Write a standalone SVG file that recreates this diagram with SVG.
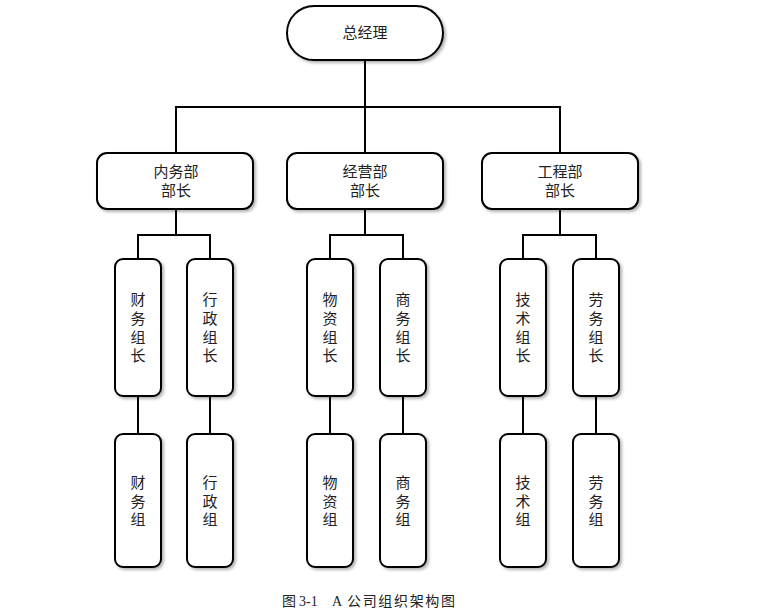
<svg xmlns="http://www.w3.org/2000/svg" width="761" height="616" viewBox="0 0 761 616">
<defs>
<filter id="sh" x="-20%" y="-20%" width="140%" height="140%">
<feDropShadow dx="2" dy="2" stdDeviation="1.5" flood-color="#000" flood-opacity="0.3"/>
</filter>
<style>
.box{fill:#fff;stroke:#000;stroke-width:2;filter:url(#sh)}
.t{font-family:"Liberation Serif","Noto Sans CJK SC",serif;font-size:15px;fill:#222;text-anchor:middle;dominant-baseline:central}
.ln{fill:none;stroke:#000;stroke-width:2}
.cap{font-family:"Liberation Serif","Noto Sans CJK SC",serif;font-size:14px;fill:#222}
</style>
</defs>
<rect width="761" height="616" fill="#fff"/>
<g id="connectors" class="ln">
<path d="M365 60V107M176 153V107H560V153M365 107V153"/>
<path d="M176 209V235M138 259V235H210V259"/>
<path d="M365 209V235M330 259V235H403V259"/>
<path d="M560 209V235M523 259V235H596V259"/>
<path d="M138 396V434M210 396V434M330 396V434M403 396V434M523 396V434M596 396V434"/>
</g>
<g id="n0"><rect class="box" x="287" y="6" width="156" height="54" rx="27"/><text class="t" x="365" y="33">总经理</text></g>
<g id="n1"><rect class="box" x="97" y="153" width="156" height="56" rx="10"/><text class="t" x="176" y="172">内务部</text><text class="t" x="176" y="191">部长</text></g>
<g id="n2"><rect class="box" x="287" y="153" width="156" height="56" rx="10"/><text class="t" x="365" y="172">经营部</text><text class="t" x="365" y="191">部长</text></g>
<g id="n3"><rect class="box" x="482" y="153" width="156" height="56" rx="10"/><text class="t" x="560" y="172">工程部</text><text class="t" x="560" y="191">部长</text></g>
<g id="n4"><rect class="box" x="115" y="259" width="46" height="137" rx="8"/><text class="t" x="138" y="300">财</text><text class="t" x="138" y="319">务</text><text class="t" x="138" y="338">组</text><text class="t" x="138" y="356">长</text></g>
<g id="n5"><rect class="box" x="187" y="259" width="46" height="137" rx="8"/><text class="t" x="210" y="300">行</text><text class="t" x="210" y="319">政</text><text class="t" x="210" y="338">组</text><text class="t" x="210" y="356">长</text></g>
<g id="n6"><rect class="box" x="307" y="259" width="46" height="137" rx="8"/><text class="t" x="330" y="300">物</text><text class="t" x="330" y="319">资</text><text class="t" x="330" y="338">组</text><text class="t" x="330" y="356">长</text></g>
<g id="n7"><rect class="box" x="380" y="259" width="46" height="137" rx="8"/><text class="t" x="403" y="300">商</text><text class="t" x="403" y="319">务</text><text class="t" x="403" y="338">组</text><text class="t" x="403" y="356">长</text></g>
<g id="n8"><rect class="box" x="500" y="259" width="46" height="137" rx="8"/><text class="t" x="523" y="300">技</text><text class="t" x="523" y="319">术</text><text class="t" x="523" y="338">组</text><text class="t" x="523" y="356">长</text></g>
<g id="n9"><rect class="box" x="573" y="259" width="46" height="137" rx="8"/><text class="t" x="596" y="300">劳</text><text class="t" x="596" y="319">务</text><text class="t" x="596" y="338">组</text><text class="t" x="596" y="356">长</text></g>
<g id="n10"><rect class="box" x="115" y="434" width="46" height="133" rx="8"/><text class="t" x="138" y="483">财</text><text class="t" x="138" y="502">务</text><text class="t" x="138" y="520">组</text></g>
<g id="n11"><rect class="box" x="187" y="434" width="46" height="133" rx="8"/><text class="t" x="210" y="483">行</text><text class="t" x="210" y="502">政</text><text class="t" x="210" y="520">组</text></g>
<g id="n12"><rect class="box" x="307" y="434" width="46" height="133" rx="8"/><text class="t" x="330" y="483">物</text><text class="t" x="330" y="502">资</text><text class="t" x="330" y="520">组</text></g>
<g id="n13"><rect class="box" x="380" y="434" width="46" height="133" rx="8"/><text class="t" x="403" y="483">商</text><text class="t" x="403" y="502">务</text><text class="t" x="403" y="520">组</text></g>
<g id="n14"><rect class="box" x="500" y="434" width="46" height="133" rx="8"/><text class="t" x="523" y="483">技</text><text class="t" x="523" y="502">术</text><text class="t" x="523" y="520">组</text></g>
<g id="n15"><rect class="box" x="573" y="434" width="46" height="133" rx="8"/><text class="t" x="596" y="483">劳</text><text class="t" x="596" y="502">务</text><text class="t" x="596" y="520">组</text></g>
<text class="cap" y="606"><tspan x="282">图</tspan><tspan x="299">3-1</tspan><tspan x="332">A</tspan><tspan x="347" textLength="108" lengthAdjust="spacing">公司组织架构图</tspan></text>
</svg>
